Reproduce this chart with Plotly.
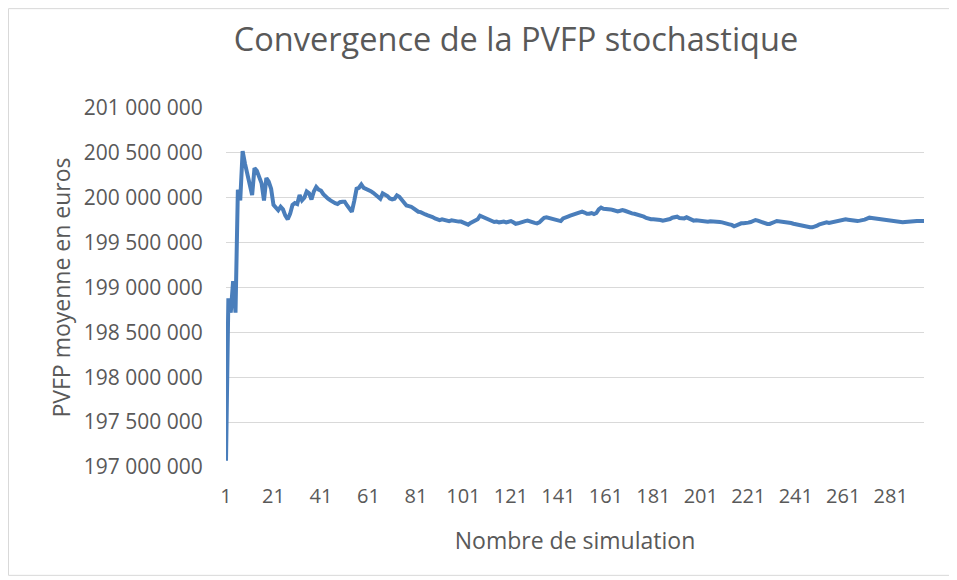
import plotly.graph_objects as go

# Running mean of the stochastic PVFP (in millions of euros), simulation 1..295
pvfp_millions = [
    197.07, 198.88, 198.72, 199.07, 198.72, 200.09, 199.97, 200.52, 200.38, 200.25,
    200.12, 200.03, 200.33, 200.30, 200.23, 200.16, 199.97, 200.22, 200.18, 200.10,
    199.92, 199.88, 199.86, 199.90, 199.87, 199.80, 199.76, 199.82, 199.92, 199.94,
    199.93, 200.03, 199.97, 200.00, 200.07, 200.05, 199.98, 200.07, 200.12, 200.09,
    200.08, 200.04, 200.01, 199.99, 199.97, 199.95, 199.94, 199.93, 199.95, 199.955,
    199.955, 199.914, 199.87, 199.844, 199.963, 200.10, 200.111, 200.148, 200.111, 200.10,
    200.092, 200.074, 200.055, 200.037, 200.018, 199.989, 200.048, 200.037, 200.018, 199.992,
    199.981, 199.989, 200.026, 200.011, 199.974, 199.937, 199.914, 199.907, 199.90, 199.881,
    199.863, 199.844, 199.84, 199.822, 199.814, 199.803, 199.796, 199.785, 199.77, 199.759,
    199.751, 199.759, 199.751, 199.748, 199.74, 199.748, 199.74, 199.74, 199.734, 199.734,
    199.72, 199.71, 199.70, 199.72, 199.73, 199.74, 199.76, 199.80, 199.79, 199.776,
    199.76, 199.75, 199.74, 199.73, 199.734, 199.726, 199.73, 199.734, 199.726, 199.734,
    199.74, 199.726, 199.71, 199.715, 199.726, 199.734, 199.74, 199.745, 199.734, 199.726,
    199.72, 199.715, 199.726, 199.752, 199.776, 199.782, 199.776, 199.77, 199.76, 199.752,
    199.745, 199.74, 199.77, 199.786, 199.79, 199.80, 199.808, 199.82, 199.83, 199.835,
    199.845, 199.835, 199.822, 199.822, 199.83, 199.818, 199.83, 199.87, 199.89, 199.878,
    199.878, 199.872, 199.87, 199.863, 199.852, 199.848, 199.855, 199.863, 199.855, 199.845,
    199.83, 199.826, 199.822, 199.815, 199.81, 199.80, 199.789, 199.775, 199.763, 199.76,
    199.76, 199.76, 199.76, 199.752, 199.745, 199.748, 199.755, 199.763, 199.778, 199.786,
    199.789, 199.775, 199.77, 199.77, 199.782, 199.77, 199.76, 199.745, 199.748, 199.745,
    199.738, 199.73, 199.726, 199.734, 199.738, 199.738, 199.734, 199.734, 199.73, 199.726,
    199.715, 199.708, 199.704, 199.697, 199.682, 199.693, 199.708, 199.715, 199.715, 199.715,
    199.723, 199.73, 199.741, 199.752, 199.745, 199.734, 199.726, 199.715, 199.708, 199.708,
    199.715, 199.73, 199.741, 199.738, 199.734, 199.734, 199.73, 199.726, 199.719, 199.711,
    199.704, 199.70, 199.693, 199.686, 199.678, 199.671, 199.671, 199.671, 199.678, 199.69,
    199.704, 199.711, 199.719, 199.726, 199.719, 199.726, 199.734, 199.741, 199.748, 199.756,
    199.763, 199.76, 199.756, 199.752, 199.745, 199.741, 199.741, 199.745, 199.748, 199.756,
    199.767, 199.778, 199.774, 199.77, 199.77, 199.767, 199.763, 199.763, 199.756, 199.752,
    199.748, 199.745, 199.741, 199.738, 199.734, 199.726, 199.73, 199.734, 199.738, 199.741,
    199.741, 199.741, 199.741, 199.741, 199.741,
]
simulations = list(range(1, len(pvfp_millions) + 1))

x_tick_values = [1, 21, 41, 61, 81, 101, 121, 141, 161, 181, 201, 221, 241, 261, 281]
x_tick_labels = ["1", "21", "41", "61", "81", "101", "121", "141", "161", "181",
                 "201", "221", "241", "261", "281"]
y_tick_values = [197000000, 197500000, 198000000, 198500000, 199000000,
                 199500000, 200000000, 200500000, 201000000]
y_tick_labels = ["197 000 000", "197 500 000", "198 000 000", "198 500 000", "199 000 000",
                 "199 500 000", "200 000 000", "200 500 000", "201 000 000"]

title_text = "Convergence de la PVFP stochastique"
x_title = "Nombre de simulation"
y_title = "PVFP moyenne en euros"

FONT = "Open Sans"
GREY = "#595959"

# The page body has an 8px margin, so the figure starts at (8, 8) on screen.
W, H = 949, 572
L, T = 218, 100          # plot area left / top (figure px)
R_EDGE, B_EDGE = 916, 459.5
PW, PH = R_EDGE - L, B_EDGE - T

fig = go.Figure()
fig.add_trace(go.Scatter(
    x=simulations,
    y=[v * 1e6 for v in pvfp_millions],
    mode="lines",
    line=dict(color="#4A7EBB", width=4),
    showlegend=False,
    hoverinfo="x+y",
))

fig.update_layout(
    width=W, height=H,
    paper_bgcolor="white", plot_bgcolor="white",
    margin=dict(l=L, r=W - R_EDGE, t=T, b=H - B_EDGE, pad=0),
    font=dict(family=FONT, color=GREY),
    title=dict(text=title_text, x=508 / W, xref="container", xanchor="center",
               y=1 - 32 / H, yref="container", yanchor="middle",
               font=dict(family=FONT, size=32.5, color=GREY)),
    xaxis=dict(
        range=[1, len(pvfp_millions)],
        tickmode="array", tickvals=x_tick_values, ticktext=x_tick_labels,
        showgrid=False, zeroline=False, showline=False,
        ticks="outside", ticklen=11, tickcolor="rgba(0,0,0,0)",
        tickfont=dict(family=FONT, size=20, color=GREY),
        title=dict(text=x_title, font=dict(family=FONT, size=23, color=GREY), standoff=24),
    ),
    yaxis=dict(
        range=[197000000, 201000000],
        tickmode="array", tickvals=y_tick_values, ticktext=y_tick_labels,
        showgrid=True, gridcolor="#D9D9D9", gridwidth=1,
        zeroline=False, showline=False,
        ticks="outside", ticklen=18, tickcolor="rgba(0,0,0,0)",
        tickfont=dict(family=FONT, size=21, color=GREY),
        title=dict(text=y_title, font=dict(family=FONT, size=23, color=GREY), standoff=6),
    ),
    shapes=[dict(type="rect", xref="paper", yref="paper",
                 x0=(0.5 - L) / PW, x1=(942 - L) / PW,
                 y0=(B_EDGE - 568) / PH, y1=(B_EDGE - 0.5) / PH,
                 line=dict(color="#D9D9D9", width=1), fillcolor="rgba(0,0,0,0)",
                 layer="below")],
)

fig.write_html("out.html")
